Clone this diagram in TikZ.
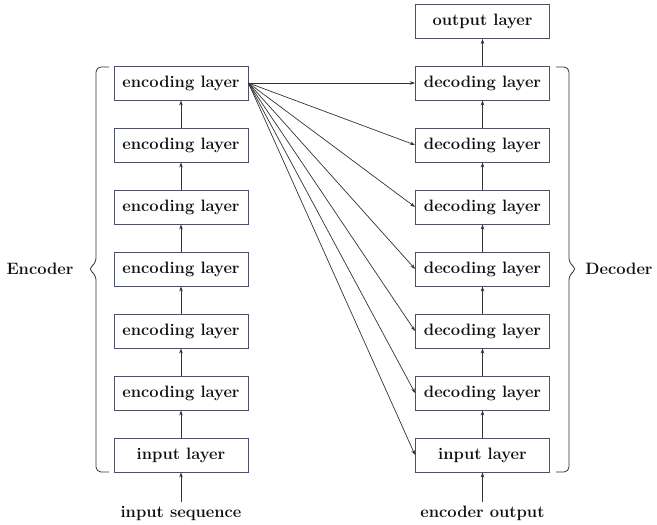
\documentclass[tikz,border=0pt]{standalone}
\usetikzlibrary{arrows.meta}
\definecolor{boxgray}{HTML}{4C5068}
\definecolor{linegray}{HTML}{333333}
\definecolor{textblack}{HTML}{111111}
\begin{document}
\begin{tikzpicture}[x=1pt,y=1pt,
    layer/.style={draw=boxgray, line width=0.9pt, minimum width=134pt, minimum height=34pt,
        inner sep=0pt, text=textblack, font=\fontsize{16.5}{19}\selectfont\bfseries},
    lbl/.style={text=textblack, font=\fontsize{16.5}{19}\selectfont\bfseries},
    flow/.style={-{Stealth[length=5pt,width=3.5pt]}, draw=linegray, line width=0.7pt},
    bracket/.style={draw=linegray, line width=0.8pt, rounded corners=5pt}]
    \useasboundingbox (0,0) rectangle (657,525);

    % encoder stack
    \node[layer] (ein)  at (181,70)  {input layer};
    \node[layer] (enc1) at (181,132) {encoding layer};
    \node[layer] (enc2) at (181,194) {encoding layer};
    \node[layer] (enc3) at (181,256) {encoding layer};
    \node[layer] (enc4) at (181,318) {encoding layer};
    \node[layer] (enc5) at (181,380) {encoding layer};
    \node[layer] (enc6) at (181,442) {encoding layer};
    \node[lbl]   (iseq) at (181,12)  {input sequence};

    % decoder stack
    \node[layer] (din)  at (482.5,70)    {input layer};
    \node[layer] (dec1) at (482.5,132)   {decoding layer};
    \node[layer] (dec2) at (482.5,194)   {decoding layer};
    \node[layer] (dec3) at (482.5,256)   {decoding layer};
    \node[layer] (dec4) at (482.5,318)   {decoding layer};
    \node[layer] (dec5) at (482.5,380)   {decoding layer};
    \node[layer] (dec6) at (482.5,442)   {decoding layer};
    \node[layer] (out)  at (482.5,503.5) {output layer};
    \node[lbl]   (eout) at (482.5,12)    {encoder output};

    % side labels
    \node[lbl] (encl) at (40,256)  {Encoder};
    \node[lbl] (decl) at (619,256) {Decoder};

    % vertical flow
    \draw[flow] (iseq) -- (ein);
    \draw[flow] (ein) -- (enc1);
    \draw[flow] (enc1) -- (enc2);
    \draw[flow] (enc2) -- (enc3);
    \draw[flow] (enc3) -- (enc4);
    \draw[flow] (enc4) -- (enc5);
    \draw[flow] (enc5) -- (enc6);
    \draw[flow] (eout) -- (din);
    \draw[flow] (din) -- (dec1);
    \draw[flow] (dec1) -- (dec2);
    \draw[flow] (dec2) -- (dec3);
    \draw[flow] (dec3) -- (dec4);
    \draw[flow] (dec4) -- (dec5);
    \draw[flow] (dec5) -- (dec6);
    \draw[flow] (dec6) -- (out);

    % encoder output to every decoder layer
    \draw[flow] (enc6.east) -- (dec6.west);
    \draw[flow] (enc6.east) -- (dec5.west);
    \draw[flow] (enc6.east) -- (dec4.west);
    \draw[flow] (enc6.east) -- (dec3.west);
    \draw[flow] (enc6.east) -- (dec2.west);
    \draw[flow] (enc6.east) -- (dec1.west);
    \draw[flow] (enc6.east) -- (din.west);

    % braces
    \draw[bracket] (109,53) -- (96,53) -- (96,250) -- (88,256) -- (96,262) -- (96,458) -- (109,458);
    \draw[bracket] (556,458) -- (569,458) -- (569,262) -- (577,256) -- (569,250) -- (569,53) -- (556,53);
\end{tikzpicture}
\end{document}
